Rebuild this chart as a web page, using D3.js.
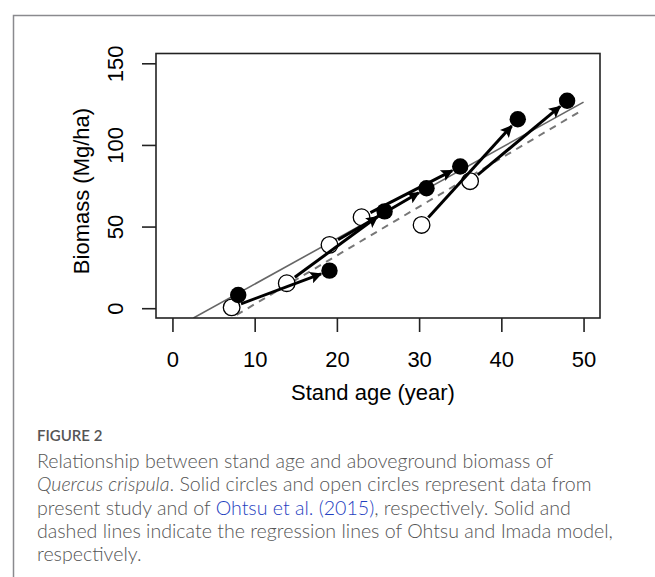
<!DOCTYPE html>
<html>
<head>
<meta charset="utf-8">
<script src="https://cdn.jsdelivr.net/npm/d3@7"></script>
<style>
  body { margin: 0; background: #fff; }
  svg { display: block; }
  .tick-label { font-family: "Liberation Sans", Arial, sans-serif; font-size: 22px; fill: #000; }
  .axis-title { font-family: "Liberation Sans", Arial, sans-serif; font-size: 22px; fill: #000; }
  .caption { font-family: Lato, "Open Sans", sans-serif; font-size: 19.6px; font-weight: 300; fill: #555; }
</style>
</head>
<body>
<svg id="chart" width="655" height="577"></svg>
<script>
// Ohtsu et al. (2015) - open circles
const openAge = [7.2, 13.9, 19.1, 23.0, 30.3, 36.2];
const openBiomass = [0.5, 15.3, 38.8, 55.7, 51, 77.8];

// Present study - solid circles
const solidAge = [8.0, 19.1, 25.8, 30.9, 35.0, 42.0, 48.0];
const solidBiomass = [8.1, 23, 59.3, 73.5, 86.8, 115.7, 127.1];

// Arrows: remeasured plots (open index -> solid index)
const arrowFrom = [0, 1, 2, 3, 4, 5];
const arrowTo = [1, 2, 3, 4, 5, 6];

// Regression lines (Ohtsu = solid, Imada = dashed)
const ohtsuAge = [2.55, 50];
const ohtsuBiomass = [-6, 126.2];
const imadaAge = [7.8, 49.6];
const imadaBiomass = [-4.1, 120.6];

const xTicks = [0, 10, 20, 30, 40, 50];
const yTicks = [0, 50, 100, 150];

const captionLines = [
  [{ t: "Relationship between stand age and aboveground biomass of" }],
  [{ t: "Quercus crispula", i: true }, { t: ". Solid circles and open circles represent data from" }],
  [{ t: "present study and of " }, { t: "Ohtsu et al. (2015)", link: true }, { t: ", respectively. Solid and" }],
  [{ t: "dashed lines indicate the regression lines of Ohtsu and Imada model," }],
  [{ t: "respectively." }]
];

const svg = d3.select("#chart");

// Card border
svg.append("path")
  .attr("d", "M13.5,577 V15.5 H655")
  .attr("fill", "none")
  .attr("stroke", "#8a8a8e")
  .attr("stroke-width", 1.5);

// Scales
const x = d3.scaleLinear().domain([-2, 52]).range([156, 600]);
const y = d3.scaleLinear().domain([-6, 156]).range([318, 53.5]);

// Clip for plot region
svg.append("defs").append("clipPath")
  .attr("id", "plot-clip")
  .append("rect")
  .attr("x", 156).attr("y", 53.5)
  .attr("width", 444).attr("height", 264.5);

svg.select("defs").append("marker")
  .attr("id", "arrowhead")
  .attr("viewBox", "0 0 10 10")
  .attr("refX", 9)
  .attr("refY", 5)
  .attr("markerUnits", "userSpaceOnUse")
  .attr("markerWidth", 14)
  .attr("markerHeight", 12)
  .attr("orient", "auto")
  .append("path")
  .attr("d", "M0,0 L10,5 L0,10 L2,5 Z")
  .attr("fill", "#000");

const plot = svg.append("g").attr("clip-path", "url(#plot-clip)");

const line = d3.line().x(d => x(d[0])).y(d => y(d[1]));

// Regression lines
plot.append("path")
  .attr("d", line(d3.zip(ohtsuAge, ohtsuBiomass)))
  .attr("fill", "none")
  .attr("stroke", "#666")
  .attr("stroke-width", 1.6);

plot.append("path")
  .attr("d", line(d3.zip(imadaAge, imadaBiomass)))
  .attr("fill", "none")
  .attr("stroke", "#777")
  .attr("stroke-width", 2)
  .attr("stroke-dasharray", "7,6");

// Open circles
plot.selectAll(".open")
  .data(d3.zip(openAge, openBiomass))
  .join("circle")
  .attr("class", "open")
  .attr("cx", d => x(d[0]))
  .attr("cy", d => y(d[1]))
  .attr("r", 8.3)
  .attr("fill", "#fff")
  .attr("stroke", "#000")
  .attr("stroke-width", 1.3);

// Arrows
arrowFrom.forEach((fi, k) => {
  const ti = arrowTo[k];
  const x0 = x(openAge[fi]), y0 = y(openBiomass[fi]);
  const x1 = x(solidAge[ti]), y1 = y(solidBiomass[ti]);
  const len = Math.hypot(x1 - x0, y1 - y0);
  const ux = (x1 - x0) / len, uy = (y1 - y0) / len;
  plot.append("line")
    .attr("x1", x0 + ux * 10)
    .attr("y1", y0 + uy * 10)
    .attr("x2", x1 - ux * 9)
    .attr("y2", y1 - uy * 9)
    .attr("stroke", "#000")
    .attr("stroke-width", 3)
    .attr("marker-end", "url(#arrowhead)");
});

// Solid circles
plot.selectAll(".solid")
  .data(d3.zip(solidAge, solidBiomass))
  .join("circle")
  .attr("class", "solid")
  .attr("cx", d => x(d[0]))
  .attr("cy", d => y(d[1]))
  .attr("r", 8.2)
  .attr("fill", "#000");

// Box
svg.append("rect")
  .attr("x", 156).attr("y", 53.5)
  .attr("width", 444).attr("height", 264.5)
  .attr("fill", "none")
  .attr("stroke", "#222")
  .attr("stroke-width", 1.6);

// X axis
const gx = svg.append("g")
  .attr("transform", "translate(0,318)")
  .call(d3.axisBottom(x).tickValues(xTicks).tickSize(14).tickSizeOuter(0));
gx.select(".domain").remove();
gx.selectAll(".tick line").attr("stroke", "#222").attr("stroke-width", 1.6);
gx.selectAll(".tick text")
  .attr("class", "tick-label")
  .attr("y", 49)
  .attr("dy", 0);

// Y axis
const gy = svg.append("g")
  .attr("transform", "translate(156,0)")
  .call(d3.axisLeft(y).tickValues(yTicks).tickSize(14).tickSizeOuter(0));
gy.select(".domain").remove();
gy.selectAll(".tick line").attr("stroke", "#222").attr("stroke-width", 1.6);
gy.selectAll(".tick text")
  .attr("class", "tick-label")
  .attr("x", 0)
  .attr("dy", 0)
  .attr("text-anchor", "middle")
  .attr("transform", "translate(-33,0) rotate(-90)");
gx.attr("font-family", null).attr("font-size", null);
gy.attr("font-family", null).attr("font-size", null);

// Axis titles
svg.append("text")
  .attr("class", "axis-title")
  .attr("x", 373)
  .attr("y", 400)
  .attr("text-anchor", "middle")
  .text("Stand age (year)");

svg.append("text")
  .attr("class", "axis-title")
  .attr("transform", "translate(89,191) rotate(-90)")
  .attr("text-anchor", "middle")
  .text("Biomass (Mg/ha)");

// Caption
svg.append("text")
  .attr("x", 37)
  .attr("y", 441)
  .attr("font-family", "Lato, sans-serif")
  .attr("font-size", 15)
  .attr("font-weight", 600)
  .attr("fill", "#555")
  .text("FIGURE 2");

captionLines.forEach((parts, i) => {
  const t = svg.append("text")
    .attr("class", "caption")
    .attr("x", 37)
    .attr("y", 468 + i * 23.3);
  parts.forEach(p => {
    t.append("tspan")
      .attr("font-style", p.i ? "italic" : null)
      .attr("fill", p.link ? "#1f3fbf" : null)
      .text(p.t);
  });
});
</script>
</body>
</html>
